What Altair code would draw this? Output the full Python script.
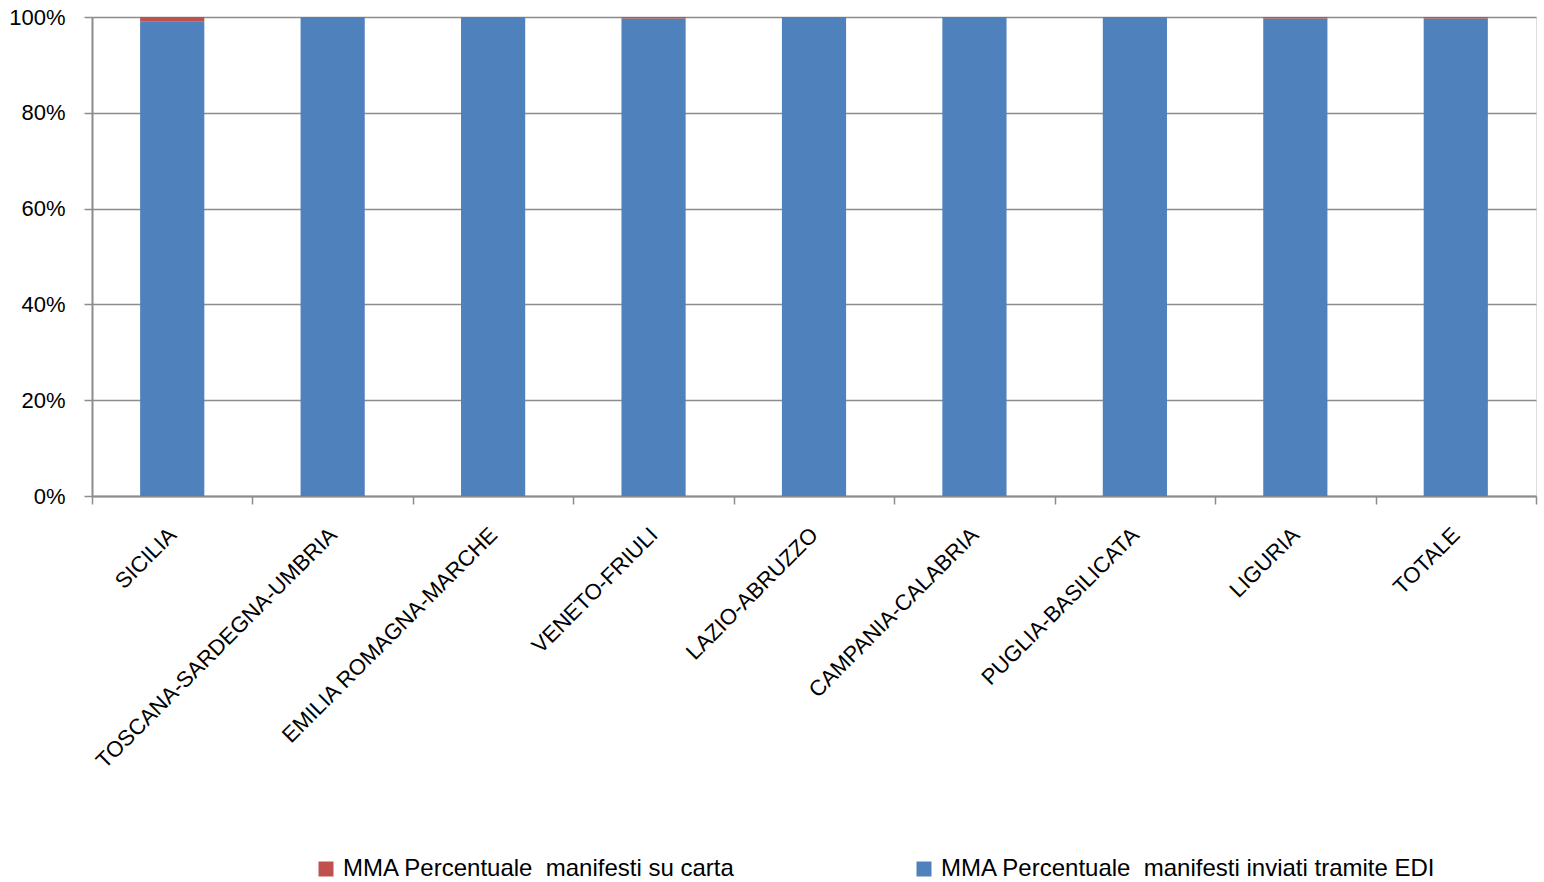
import altair as alt
import pandas as pd

# Regions (customs directorates) and the share of manifests by channel, in percent
regions = [
    "SICILIA",
    "TOSCANA-SARDEGNA-UMBRIA",
    "EMILIA ROMAGNA-MARCHE",
    "VENETO-FRIULI",
    "LAZIO-ABRUZZO",
    "CAMPANIA-CALABRIA",
    "PUGLIA-BASILICATA",
    "LIGURIA",
    "TOTALE",
]
pct_paper = [1.0, 0.0, 0.0, 0.3, 0.0, 0.0, 0.0, 0.3, 0.3]
pct_edi = [99.0, 100.0, 100.0, 99.7, 100.0, 100.0, 100.0, 99.7, 99.7]

series_paper = "MMA Percentuale \u00a0manifesti su carta"
series_edi = "MMA Percentuale \u00a0manifesti inviati tramite EDI"
series_names = [series_paper, series_edi]
series_colors = ["#C0504D", "#4F81BD"]

rows = []
for r, p, e in zip(regions, pct_paper, pct_edi):
    rows.append({"regione": r, "serie": series_edi, "valore": e, "ordine": 0})
    rows.append({"regione": r, "serie": series_paper, "valore": p, "ordine": 1})
df = pd.DataFrame(rows)

FONT = "Liberation Sans"
GRID = "#8c8c8c"

# Full-step bands so that category ticks fall between the bars;
# the bars themselves take 40% of each band.
bars = alt.Chart(df).mark_bar(stroke=None, width={"band": 0.4}).encode(
    x=alt.X(
        "regione:N",
        sort=regions,
        title=None,
        scale=alt.Scale(paddingInner=0, paddingOuter=0),
        axis=alt.Axis(
            labelAngle=-45,
            labelAlign="right",
            labelBaseline="middle",
            labelFontSize=22,
            labelFont=FONT,
            labelColor="#000000",
            labelPadding=27,
            labelLimit=400,
            tickBand="extent",
            tickSize=8,
            tickColor=GRID,
            tickWidth=1.5,
            domainColor=GRID,
            domainWidth=2,
            grid=False,
        ),
    ),
    y=alt.Y(
        "valore:Q",
        stack="normalize",
        title=None,
        scale=alt.Scale(domain=[0, 1], nice=False),
        axis=alt.Axis(
            format=".0%",
            values=[0, 0.2, 0.4, 0.6, 0.8, 1.0],
            labelFontSize=22,
            labelFont=FONT,
            labelColor="#000000",
            labelPadding=19,
            tickSize=8,
            tickColor=GRID,
            tickWidth=1.5,
            domainColor=GRID,
            domainWidth=2,
            gridColor=GRID,
            gridWidth=1.5,
        ),
    ),
    color=alt.Color(
        "serie:N",
        scale=alt.Scale(domain=series_names, range=series_colors),
        legend=alt.Legend(
            title=None,
            orient="none",
            direction="horizontal",
            legendX=222,
            legendY=840,
            symbolType="square",
            symbolSize=225,
            symbolStrokeWidth=0,
            labelFontSize=24,
            labelFont=FONT,
            labelColor="#000000",
            labelLimit=700,
            labelOffset=5,
            columnPadding=176,
        ),
    ),
    order=alt.Order("ordine:Q"),
)

chart = (
    bars.properties(
        width=1444,
        height=479,
        autosize=alt.AutoSizeParams(type="none"),
        padding={"left": 92, "top": 17, "right": 8, "bottom": 386},
    )
    .configure_view(stroke=None)
    .configure(background="#ffffff")
)

chart.save("out.html", embed_options={"renderer": "svg", "actions": False})
